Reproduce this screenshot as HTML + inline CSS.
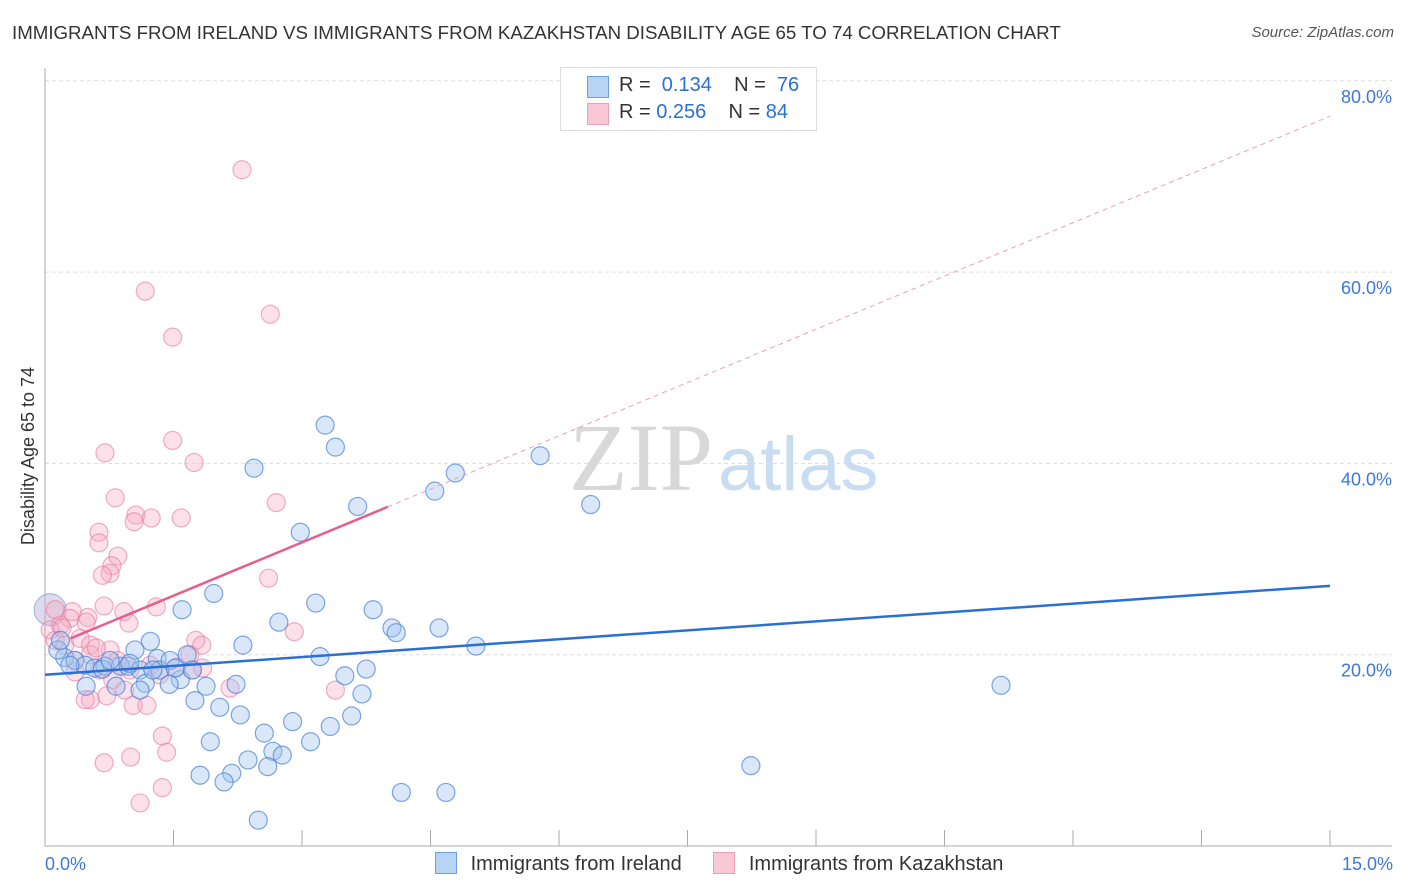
<!DOCTYPE html>
<html><head><meta charset="utf-8"><style>
body{margin:0;background:#fff;font-family:"Liberation Sans",sans-serif;}
#wrap{position:relative;width:1406px;height:892px;overflow:hidden;}
.t{position:absolute;white-space:nowrap;}
</style></head><body>
<div id="wrap">
<div class="t" style="left:12px;top:22px;font-size:18.7px;color:#333;">IMMIGRANTS FROM IRELAND VS IMMIGRANTS FROM KAZAKHSTAN DISABILITY AGE 65 TO 74 CORRELATION CHART</div>
<div class="t" style="right:12px;top:24px;font-size:15px;color:#555;font-style:italic;">Source: ZipAtlas.com</div>
<svg id="svg" width="1406" height="892" style="position:absolute;left:0;top:0"></svg>
</div>
<script>
const xTicksPct=[0,15];
const yTicks=[20,40,60,80];
const blueX=[3.27,3.39,2.44,4.79,4.55,5.78,6.37,3.65,2.98,1.97,1.60,3.16,3.83,2.73,4.05,4.10,4.60,5.03,2.31,1.23,1.05,1.31,1.66,3.21,3.75,3.50,3.70,11.16,8.24,0.23,0.35,0.47,0.58,0.70,0.88,0.97,1.11,1.34,1.46,1.58,1.72,0.48,0.83,1.17,1.45,1.88,2.23,1.75,2.04,2.28,2.89,3.33,3.58,2.56,1.93,2.66,3.10,2.37,2.77,2.60,1.81,2.18,2.09,4.16,4.68,2.49,0.67,0.15,0.29,0.76,0.99,1.52,1.26,1.11,0.18];
const blueY=[44.0,41.7,39.5,39.0,37.1,40.8,35.7,35.5,32.8,26.4,24.7,25.4,24.7,23.4,22.8,22.3,22.8,20.9,21.0,21.4,20.5,19.6,20.0,19.8,18.5,17.8,15.9,16.8,8.4,19.7,19.4,18.9,18.6,18.8,18.8,18.8,18.4,18.4,19.4,17.4,18.4,16.7,16.7,17.0,16.9,16.7,16.9,15.2,14.5,13.7,13.0,12.5,13.6,11.8,10.9,9.9,10.9,9.0,9.5,8.3,7.4,7.6,6.7,5.6,5.6,2.7,18.5,20.5,18.9,19.4,19.1,18.6,18.4,16.3,21.5];
const pinkX=[2.30,1.17,2.63,1.49,1.49,0.70,1.74,0.82,2.70,1.06,1.24,1.59,1.04,0.63,0.63,0.85,0.78,0.76,0.67,2.61,1.30,0.69,0.92,0.98,0.50,0.32,0.48,1.76,2.91,1.83,0.29,0.18,0.06,0.12,0.23,0.41,0.53,0.35,0.53,0.76,0.85,1.23,0.99,1.54,1.84,0.35,0.64,0.79,1.34,1.69,2.16,3.39,0.93,0.53,0.72,1.03,1.19,1.37,1.42,0.69,1.00,1.37,1.11,0.12,0.20,0.60,0.47,1.72];
const pinkY=[70.7,58.0,55.6,53.2,42.4,41.1,40.1,36.4,35.9,34.6,34.3,34.3,33.9,32.8,31.7,30.3,29.3,28.5,28.3,28.0,25.0,25.1,24.5,23.3,23.9,24.5,23.4,21.5,22.4,21.0,23.8,23.1,22.6,21.5,21.0,21.7,21.0,19.4,20.0,20.5,19.4,18.9,18.4,18.7,18.6,18.2,18.4,17.4,17.9,20.0,16.5,16.3,16.3,15.3,15.7,14.7,14.7,11.5,9.8,8.7,9.3,6.1,4.5,24.7,22.8,20.7,15.3,18.4];
const blueTrend=[17.9,27.2];
const pinkTrend=[20.6,76.3];
const pinkSolidEnd=4.0;
const NS="http://www.w3.org/2000/svg";
const svg=document.getElementById('svg');
const X0=45,X1=1330,Y0=846,YP=9.565;
const sx=v=>X0+(v-0)/15*(X1-X0);
const sy=v=>Y0-v*YP;
function mk(tag,attrs,parent){const e=document.createElementNS(NS,tag);for(const k in attrs)e.setAttribute(k,attrs[k]);(parent||svg).appendChild(e);return e;}
yTicks.forEach(t=>{
 const g=mk('line',{x1:X0,x2:1392,y1:sy(t),y2:sy(t),stroke:'#ddd','stroke-dasharray':'4,3'});
 
 
 const tx=mk('text',{x:1392,y:sy(t)+22,'text-anchor':'end','font-size':18,fill:'#3d78d8','font-family':'Liberation Sans'});
 tx.textContent=t.toFixed(1)+'%';
 
 
});
const ax=mk('line',{x1:X0,x2:X0,y1:68,y2:846,stroke:'#aaa'});


const bx=mk('line',{x1:X0,x2:1392,y1:846,y2:846,stroke:'#aaa'});


for(let i=0;i<=10;i++){const v=i*1.5;const tk=mk('line',{x1:sx(v),x2:sx(v),y1:830,y2:846,stroke:'#aaa'});
 
 }
xTicksPct.forEach((t,i)=>{const tx=mk('text',{x:i?1393:45,y:870,'text-anchor':i?'end':'start','font-size':18,fill:'#3d78d8','font-family':'Liberation Sans'});
 tx.textContent=t.toFixed(1)+'%';
 
 });
const yt=mk('text',{x:34,y:456,transform:'rotate(-90 34 456)','text-anchor':'middle','font-size':18,fill:'#333','font-family':'Liberation Sans'});
yt.textContent='Disability Age 65 to 74';


const wm=mk('text',{x:713,y:490,'text-anchor':'end','font-size':96,fill:'#d8d8d8','font-family':'Liberation Serif'});
wm.textContent='ZIP';


const wm2=mk('text',{x:718,y:490,'font-size':76,fill:'#c8dcf2','font-family':'Liberation Sans'});
wm2.textContent='atlas';


const bc=mk('circle',{cx:sx(0.06),cy:sy(24.7),r:16,fill:'rgba(190,180,215,0.5)',stroke:'#9ab0e0'});


pinkX.forEach((x,i)=>{const c=mk('circle',{cx:sx(x),cy:sy(pinkY[i]),r:9,fill:'rgba(245,170,195,0.35)',stroke:'rgba(232,120,160,0.6)','stroke-width':1.2});
 
 });
blueX.forEach((x,i)=>{const c=mk('circle',{cx:sx(x),cy:sy(blueY[i]),r:9,fill:'rgba(160,196,240,0.4)',stroke:'rgba(70,130,215,0.7)','stroke-width':1.2});
 
 });
const pt=v=>pinkTrend[0]+(pinkTrend[1]-pinkTrend[0])*v/15;
const pd=mk('line',{x1:sx(pinkSolidEnd),y1:sy(pt(pinkSolidEnd)),x2:sx(15),y2:sy(pinkTrend[1]),stroke:'#eaa0b8','stroke-dasharray':'5,4','stroke-width':1});


const ps=mk('line',{x1:sx(0.3),y1:sy(pt(0.3)),x2:sx(pinkSolidEnd),y2:sy(pt(pinkSolidEnd)),stroke:'#e55f8c','stroke-width':2.5});


const bl=mk('line',{x1:sx(0),y1:sy(blueTrend[0]),x2:sx(15),y2:sy(blueTrend[1]),stroke:'#2a6fd6','stroke-width':2.5});


</script>
<div class="t" style="left:560px;top:67px;width:255px;height:62px;border:1px solid #ddd;background:#fff;font-size:20px;color:#333;">
 <div style="position:absolute;left:26px;top:8px;width:20px;height:20px;background:#b8d4f5;border:1px solid #6aa0e0;"></div>
 <div style="position:absolute;left:58px;top:6px;">R = <span style="color:#2a6fd6">&nbsp;0.134</span>&nbsp;&nbsp;&nbsp; N = <span style="color:#2a6fd6">&nbsp;76</span></div>
 <div style="position:absolute;left:26px;top:35px;width:20px;height:20px;background:#f8c8d6;border:1px solid #eaa0b8;"></div>
 <div style="position:absolute;left:58px;top:33px;">R = <span style="color:#2a6fd6">0.256</span>&nbsp;&nbsp;&nbsp; N = <span style="color:#2a6fd6">84</span></div>
</div>
<div class="t" style="left:435px;top:852px;font-size:20px;color:#333;">
 <span style="display:inline-block;width:20px;height:20px;background:#b8d4f5;border:1px solid #6aa0e0;vertical-align:-4px;"></span>
 <span style="margin-left:8px">Immigrants from Ireland</span>
 <span style="display:inline-block;width:20px;height:20px;background:#f8c8d6;border:1px solid #eaa0b8;vertical-align:-4px;margin-left:26px;"></span>
 <span style="margin-left:8px">Immigrants from Kazakhstan</span>
</div>
</body></html>
